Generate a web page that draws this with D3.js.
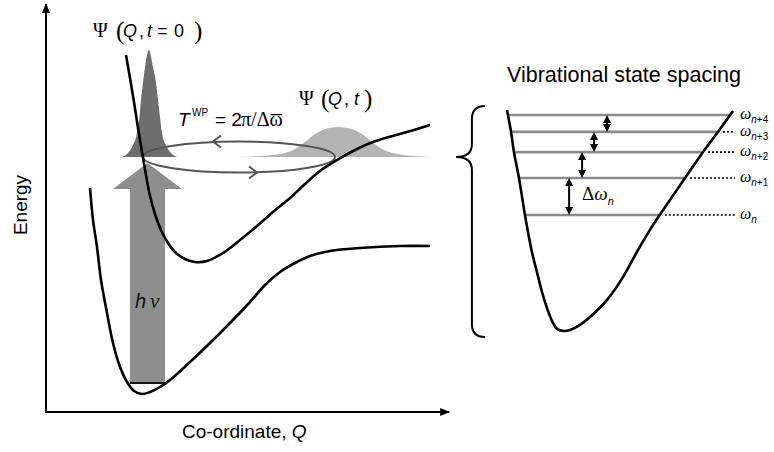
<!DOCTYPE html>
<html>
<head>
<meta charset="utf-8">
<script src="https://cdn.jsdelivr.net/npm/d3@7"></script>
<style>
  body { margin: 0; background: #fff; }
  svg { display: block; }
</style>
</head>
<body>
<svg id="chart" width="774" height="452"></svg>
<script>
// ---------- Left panel: potential energy curves (coordinate Q, energy E) ----------
const groundQ  = [1.1, 1.175, 1.275, 1.375, 1.525, 1.675, 1.85, 2.025, 2.2, 2.4, 2.6, 2.85, 3.1, 3.6, 4.1, 4.6, 5.1, 5.475, 5.85, 6.225, 6.6, 7.1, 7.85, 8.85, 9.6];
const groundE  = [5.6, 4.8, 4.125, 3.3, 2.475, 1.725, 1.125, 0.75, 0.525, 0.45, 0.5, 0.625, 0.8, 1.25, 1.725, 2.225, 2.75, 3.175, 3.5, 3.725, 3.9, 4.025, 4.1, 4.15, 4.15];
const excitedQ = [2.0, 2.1, 2.2, 2.3, 2.4, 2.5, 2.6, 2.725, 2.875, 3.05, 3.25, 3.475, 3.725, 4.025, 4.425, 4.85, 5.275, 5.675, 6.1, 6.475, 6.85, 7.275, 7.725, 8.175, 9.025, 9.6];
const excitedE = [8.925, 8.35, 7.75, 7.1, 6.5, 5.925, 5.4, 4.95, 4.55, 4.225, 3.975, 3.825, 3.75, 3.775, 3.975, 4.3, 4.65, 5.0, 5.35, 5.7, 6.025, 6.3, 6.55, 6.75, 7.0, 7.175];

// Wave packet at t = 0 (narrow) and at later t (broadened), both resting on the same level
const packetBaseE = 6.375;
const packet0Q = [1.9, 2.05, 2.15, 2.275, 2.3375, 2.375, 2.425, 2.475, 2.575, 2.675, 2.75, 2.8, 2.85, 2.9, 3.025, 3.125, 3.275];
const packet0E = [6.375, 6.475, 6.625, 6.975, 7.375, 7.8, 8.225, 8.625, 9.05, 8.625, 8.225, 7.8, 7.375, 6.975, 6.625, 6.475, 6.375];
const packetTQ = [4.8, 5.35, 5.85, 6.225, 6.475, 6.725, 7.025, 7.3, 7.6, 7.9, 8.15, 8.4, 8.775, 9.225, 9.6];
const packetTE = [6.375, 6.4, 6.45, 6.575, 6.75, 6.95, 7.0875, 7.125, 7.0875, 6.95, 6.75, 6.575, 6.45, 6.4, 6.375];

// Wave-packet orbit (centre and half-axes in Q, E)
const orbitCentre = [4.825, 6.375];
const orbitRadii  = [2.4, 0.3875];
const orbitArrowQ = [4.175, 5.275];   // top (leftward), bottom (rightward)

// Photo-excitation arrow h\u03bd
const pumpShaftQ = [2.1, 2.975];
const pumpHeadQ  = [1.675, 3.4];
const pumpE      = [0.725, 5.575, 6.225];   // base, head base, tip

// ---------- Right panel: anharmonic well and its vibrational levels ----------
const wellQ = [0.29, 0.46, 0.58, 0.79, 1.04, 1.33, 1.54, 1.75, 1.96, 2.17, 2.38, 2.63, 2.92, 3.33, 3.75, 4.46, 5.13, 5.75, 6.46, 7.08, 7.71, 8.46, 9.08, 9.71];
const wellE = [9.58, 8.67, 7.83, 6.75, 5.21, 3.67, 2.83, 2.0, 1.33, 0.79, 0.46, 0.38, 0.42, 0.63, 0.96, 1.67, 2.63, 3.75, 4.92, 5.83, 6.75, 7.83, 8.67, 9.54];
const levelNames = ["n", "n+1", "n+2", "n+3", "n+4"];
const levelE     = [5.21, 6.75, 7.83, 8.67, 9.375];
const spacingQ   = [2.88, 3.42, 3.92, 4.46];   // double arrows between neighbouring levels
const labelQ     = 10.0;
const dotEndQ    = 9.79;
const braceQ     = [-1.83, -1.17, -0.63];      // tip, spine, ends
const braceE     = [9.75, 7.625, 0.125];       // top, tip, bottom

// ---------- Scales ----------
const xL = d3.scaleLinear().domain([0, 10]).range([46, 446]);
const yL = d3.scaleLinear().domain([0, 10]).range([412, 12]);
const xR = d3.scaleLinear().domain([0, 10]).range([500, 740]);
const yR = d3.scaleLinear().domain([0, 10]).range([340, 100]);

const SANS = "'Liberation Sans', Arial, sans-serif";
const SERIF = "'Liberation Serif', 'Times New Roman', serif";

const svg = d3.select("#chart");
const defs = svg.append("defs");
defs.append("marker")
  .attr("id", "axisHead").attr("viewBox", "0 0 10 8")
  .attr("refX", 9).attr("refY", 4)
  .attr("markerWidth", 10).attr("markerHeight", 8)
  .attr("markerUnits", "userSpaceOnUse").attr("orient", "auto")
  .append("path").attr("d", "M0,0L10,4L0,8Z").attr("fill", "#000");

const zip = (a, b) => a.map((v, i) => [v, b[i]]);

// ---------- Axes ----------
svg.append("line")
  .attr("x1", xL(0)).attr("y1", yL(0)).attr("x2", xL(0)).attr("y2", yL(10.2))
  .attr("stroke", "#000").attr("stroke-width", 2).attr("marker-end", "url(#axisHead)");
svg.append("line")
  .attr("x1", xL(0) - 1).attr("y1", yL(0)).attr("x2", xL(10.08)).attr("y2", yL(0))
  .attr("stroke", "#000").attr("stroke-width", 2).attr("marker-end", "url(#axisHead)");

function putText(x, y, str, opts = {}) {
  return svg.append("text")
    .attr("x", x).attr("y", y)
    .attr("font-family", opts.family || SANS)
    .attr("font-size", opts.size || 18)
    .attr("font-style", opts.style || "normal")
    .attr("text-anchor", opts.anchor || "start")
    .attr("fill", opts.fill || "#000")
    .text(str);
}

putText(0, 0, "Energy", { size: 19, anchor: "middle" })
  .attr("transform", `translate(27,205) rotate(-90)`);
const coord = svg.append("text")
  .attr("x", 182).attr("y", 438)
  .attr("font-family", SANS).attr("font-size", 19);
coord.append("tspan").text("Co-ordinate, ");
coord.append("tspan").attr("font-style", "italic").text("Q");

// ---------- Wave packets ----------
const packetArea = d3.area()
  .x(d => xL(d[0])).y0(yL(packetBaseE)).y1(d => yL(d[1]))
  .curve(d3.curveMonotoneX);
svg.append("path").attr("d", packetArea(zip(packetTQ, packetTE))).attr("fill", "#b4b4b4");
svg.append("path").attr("d", packetArea(zip(packet0Q, packet0E))).attr("fill", "#6e6e6e");

// ---------- Excitation arrow ----------
const pump = d3.path();
const tipX = (xL(pumpShaftQ[0]) + xL(pumpShaftQ[1])) / 2;
pump.moveTo(xL(pumpShaftQ[0]), yL(pumpE[0]));
pump.lineTo(xL(pumpShaftQ[0]), yL(pumpE[1]));
pump.lineTo(xL(pumpHeadQ[0]), yL(pumpE[1]));
pump.lineTo(tipX, yL(pumpE[2]));
pump.lineTo(xL(pumpHeadQ[1]), yL(pumpE[1]));
pump.lineTo(xL(pumpShaftQ[1]), yL(pumpE[1]));
pump.lineTo(xL(pumpShaftQ[1]), yL(pumpE[0]));
pump.closePath();
svg.append("path").attr("d", pump.toString()).attr("fill", "#8e8e8e");
svg.append("line")
  .attr("x1", xL(pumpShaftQ[0])).attr("x2", xL(pumpShaftQ[1]))
  .attr("y1", yL(pumpE[0])).attr("y2", yL(pumpE[0]))
  .attr("stroke", "#111").attr("stroke-width", 2);
putText(135, 308, "h", { size: 20, style: "italic", fill: "#111" });
putText(150, 308, "\u03bd", { family: SERIF, size: 21, style: "italic", fill: "#111" });

// ---------- Orbit of the wave packet ----------
const ocx = xL(orbitCentre[0]), ocy = yL(orbitCentre[1]);
const orx = xL(orbitCentre[0] + orbitRadii[0]) - ocx;
const ory = ocy - yL(orbitCentre[1] + orbitRadii[1]);
svg.append("ellipse")
  .attr("cx", ocx).attr("cy", ocy).attr("rx", orx).attr("ry", ory)
  .attr("fill", "none").attr("stroke", "#555").attr("stroke-width", 2);
const topY = ocy - ory, botY = ocy + ory;
svg.append("path")
  .attr("d", `M${xL(orbitArrowQ[0]) + 8},${topY - 6}L${xL(orbitArrowQ[0])},${topY}L${xL(orbitArrowQ[0]) + 8},${topY + 6}`)
  .attr("fill", "none").attr("stroke", "#555").attr("stroke-width", 2);
svg.append("path")
  .attr("d", `M${xL(orbitArrowQ[1]) - 8},${botY - 6}L${xL(orbitArrowQ[1])},${botY}L${xL(orbitArrowQ[1]) - 8},${botY + 6}`)
  .attr("fill", "none").attr("stroke", "#555").attr("stroke-width", 2);

// ---------- Potential curves ----------
const curve = (xs, ys) => d3.line().x(d => xs(d[0])).y(d => ys(d[1])).curve(d3.curveCatmullRom.alpha(0.5));
svg.append("path").attr("d", curve(xL, yL)(zip(groundQ, groundE)))
  .attr("fill", "none").attr("stroke", "#000").attr("stroke-width", 2.6);
svg.append("path").attr("d", curve(xL, yL)(zip(excitedQ, excitedE)))
  .attr("fill", "none").attr("stroke", "#000").attr("stroke-width", 2.6);

// ---------- Wave-packet labels ----------
putText(93, 37, "\u03a8", { family: SERIF, size: 20 });
putText(116, 39, "(", { family: SERIF, size: 25 });
putText(123, 37, "Q", { size: 18, style: "italic" });
putText(139, 37, ",", { size: 18 });
putText(147, 37, "t", { size: 18, style: "italic" });
putText(157, 37, "=", { size: 18 });
putText(174, 37, "0", { size: 18 });
putText(194, 39, ")", { family: SERIF, size: 25 });

putText(299, 105, "\u03a8", { family: SERIF, size: 20 });
putText(321, 107, "(", { family: SERIF, size: 25 });
putText(328, 105, "Q", { size: 18, style: "italic" });
putText(344, 105, ",", { size: 18 });
putText(354, 105, "t", { size: 18, style: "italic" });
putText(364, 107, ")", { family: SERIF, size: 25 });

putText(178, 126, "T", { size: 19, style: "italic" });
putText(192, 116, "WP", { size: 10 });
putText(215, 126, "= 2", { size: 19 });
const period = putText(241, 126, "\u03c0/\u0394\u03c9", { family: SERIF, size: 20 });
{
  const el = period.node();
  const box = el.getExtentOfChar(el.getNumberOfChars() - 1);
  svg.append("line")
    .attr("x1", box.x + 1).attr("x2", box.x + box.width - 0.5)
    .attr("y1", box.y + box.height * 0.3).attr("y2", box.y + box.height * 0.3)
    .attr("stroke", "#000").attr("stroke-width", 1.2);
}

// ---------- Right panel ----------
putText(507, 82, "Vibrational state spacing", { size: 21.5 });

// curly brace spanning the well
{
  const tip = xR(braceQ[0]), sp = xR(braceQ[1]), end = xR(braceQ[2]);
  const top = yR(braceE[0]), mid = yR(braceE[1]), bot = yR(braceE[2]);
  const r = 13;
  const p = d3.path();
  p.moveTo(end, top);
  p.quadraticCurveTo(sp, top, sp, top + r);
  p.lineTo(sp, mid - r);
  p.quadraticCurveTo(sp, mid, tip, mid);
  p.quadraticCurveTo(sp, mid, sp, mid + r);
  p.lineTo(sp, bot - r);
  p.quadraticCurveTo(sp, bot, end, bot);
  svg.append("path").attr("d", p.toString())
    .attr("fill", "none").attr("stroke", "#000").attr("stroke-width", 2);
}

// where a level meets the two branches of the well
const minIdx = d3.minIndex(wellE);
function crossing(e, from, to) {
  const step = from < to ? 1 : -1;
  for (let i = from; i !== to; i += step) {
    const j = i + step;
    const a = wellE[i], b = wellE[j];
    if ((a - e) * (b - e) <= 0 && a !== b) {
      const t = (e - a) / (b - a);
      return wellQ[i] + t * (wellQ[j] - wellQ[i]);
    }
  }
  return wellQ[to];
}
const levelQL = levelE.map(e => crossing(e, minIdx, 0));
const levelQR = levelE.map(e => crossing(e, minIdx, wellQ.length - 1));

svg.selectAll("line.level").data(levelE).join("line")
  .attr("class", "level")
  .attr("x1", (d, i) => xR(levelQL[i])).attr("x2", (d, i) => xR(levelQR[i]))
  .attr("y1", d => yR(d)).attr("y2", d => yR(d))
  .attr("stroke", "#8a8a8a").attr("stroke-width", 2.6);

// dotted leaders to the labels
levelE.forEach((e, i) => {
  const x0 = xR(levelQR[i]) + 5, x1 = xR(dotEndQ);
  if (x1 - x0 > 4) {
    svg.append("line")
      .attr("x1", x0).attr("x2", x1).attr("y1", yR(e)).attr("y2", yR(e))
      .attr("stroke", "#000").attr("stroke-width", 1.6).attr("stroke-dasharray", "2,2");
  }
});

svg.append("path").attr("d", curve(xR, yR)(zip(wellQ, wellE)))
  .attr("fill", "none").attr("stroke", "#000").attr("stroke-width", 2.6);

// level labels  \u03c9_n ... \u03c9_n+4
levelE.forEach((e, i) => {
  const y = yR(e);
  const t = svg.append("text").attr("x", xR(labelQ)).attr("y", y + 4).attr("fill", "#000");
  t.append("tspan").attr("font-family", SERIF).attr("font-style", "italic").attr("font-size", 16).text("\u03c9");
  const name = levelNames[i];
  t.append("tspan").attr("font-family", SANS).attr("font-style", "italic").attr("font-size", 10)
    .attr("dy", 4).text(name[0]);
  if (name.length > 1) {
    t.append("tspan").attr("font-family", SANS).attr("font-size", 10).text(name.slice(1));
  }
});

// double-headed arrows marking each spacing
spacingQ.forEach((q, i) => {
  const x = xR(q), yTop = yR(levelE[i + 1]), yBot = yR(levelE[i]);
  const h = 8, w = 4;
  if (yBot - yTop > 2 * h) {
    svg.append("line").attr("x1", x).attr("x2", x).attr("y1", yTop + h - 1).attr("y2", yBot - h + 1)
      .attr("stroke", "#000").attr("stroke-width", 2);
  }
  svg.append("path").attr("d", `M${x},${yTop}L${x - w},${yTop + h}L${x + w},${yTop + h}Z`).attr("fill", "#000");
  svg.append("path").attr("d", `M${x},${yBot}L${x - w},${yBot - h}L${x + w},${yBot - h}Z`).attr("fill", "#000");
});

// spacing label
{
  const t = svg.append("text").attr("x", xR(spacingQ[1])).attr("y", yR(5.83)).attr("fill", "#000");
  t.append("tspan").attr("font-family", SERIF).attr("font-size", 19).text("\u0394");
  t.append("tspan").attr("font-family", SERIF).attr("font-style", "italic").attr("font-size", 19).text("\u03c9");
  t.append("tspan").attr("font-family", SANS).attr("font-style", "italic").attr("font-size", 11).attr("dy", 5).text("n");
}
</script>
</body>
</html>
